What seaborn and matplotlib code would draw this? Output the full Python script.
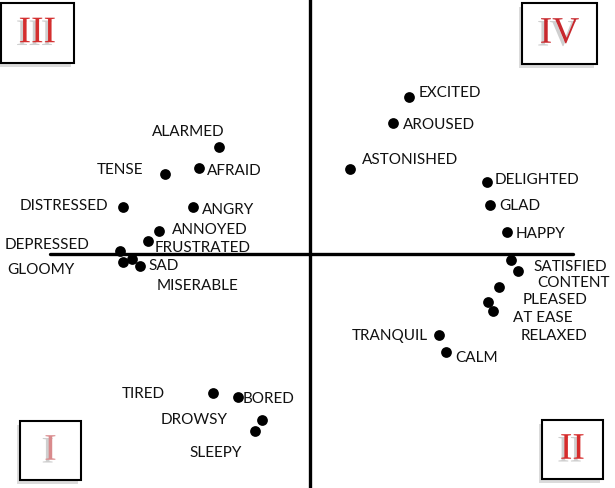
import matplotlib
matplotlib.use("Agg")
import matplotlib.pyplot as plt
import matplotlib.patheffects as pe
from matplotlib.patches import Rectangle
import seaborn as sns
import pandas as pd

# ---- data (pleasure = x, arousal = y) ----
words = ["ALARMED", "AFRAID", "TENSE", "DISTRESSED", "ANGRY", "ANNOYED",
         "FRUSTRATED", "DEPRESSED", "GLOOMY", "MISERABLE", "SAD",
         "EXCITED", "AROUSED", "ASTONISHED", "DELIGHTED", "GLAD", "HAPPY",
         "SATISFIED", "CONTENT", "PLEASED", "AT EASE", "RELAXED",
         "TRANQUIL", "CALM", "TIRED", "BORED", "DROWSY", "SLEEPY"]
pleasure = [-0.364, -0.444, -0.580, -0.748, -0.468, -0.604,
            -0.648, -0.760, -0.748, -0.712, -0.680,
            0.396, 0.332, 0.160, 0.708, 0.720, 0.788,
            0.804, 0.832, 0.756, 0.712, 0.732,
            0.516, 0.544, -0.388, -0.288, -0.192, -0.220]
arousal = [0.428, 0.344, 0.320, 0.188, 0.188, 0.092,
           0.052, 0.012, -0.032, -0.020, -0.048,
           0.628, 0.524, 0.340, 0.288, 0.196, 0.088,
           -0.024, -0.068, -0.132, -0.192, -0.228,
           -0.324, -0.392, -0.556, -0.572, -0.664, -0.708]
quadrants = ["III", "IV", "I", "II"]

# ---- label placement (pixel offsets, alignment) ----
label_style = {
    "ALARMED": (-31, 16, "center"), "AFRAID": (8, -2, "left"),
    "TENSE": (-22, 5, "right"), "DISTRESSED": (-15, 2, "right"),
    "ANGRY": (9, -2, "left"), "ANNOYED": (13, 2, "left"),
    "FRUSTRATED": (7, -6, "left"), "DEPRESSED": (-31, 7, "right"),
    "GLOOMY": (-49, -7, "right"), "MISERABLE": (25, -26, "left"),
    "SAD": (8, 1, "left"), "EXCITED": (10, 5, "left"),
    "AROUSED": (10, -1, "left"), "ASTONISHED": (12, 10, "left"),
    "DELIGHTED": (8, 3, "left"), "GLAD": (9, 0, "left"),
    "HAPPY": (9, -1, "left"), "SATISFIED": (22, -6, "left"),
    "CONTENT": (19, -11, "left"), "PLEASED": (24, -12, "left"),
    "AT EASE": (25, -15, "left"), "RELAXED": (28, -24, "left"),
    "TRANQUIL": (-11, 0, "right"), "CALM": (9, -5, "left"),
    "TIRED": (-48, 0, "right"), "BORED": (5, -1, "left"),
    "DROWSY": (-34, 1, "right"), "SLEEPY": (-13, -21, "right"),
}

df = pd.DataFrame({"word": words, "pleasure": pleasure, "arousal": arousal})

sns.set_style("white")
plt.rcParams["font.family"] = ["Lato", "DejaVu Sans"]

W, H = 615, 489
fig = plt.figure(figsize=(W / 100, H / 100), dpi=100)
ax = fig.add_axes([0, 0, 1, 1])
ax.set_xlim(-310 / 250, (W - 310) / 250)
ax.set_ylim((255 - H) / 250, 255 / 250)
ax.axis("off")

# axes cross
ax.plot([(50 - 310) / 250, (573 - 310) / 250], [0, 0], color="black", lw=2.4, zorder=1)
ax.axvline(0, color="black", lw=2.4, zorder=1)

sns.scatterplot(data=df, x="pleasure", y="arousal", ax=ax, s=60,
                color="black", edgecolor="black", linewidth=0, zorder=3,
                legend=False)

for w, x, y in zip(words, pleasure, arousal):
    dx, dy, ha = label_style[w]
    ax.annotate(w, (x, y), xytext=(dx, dy), textcoords="offset pixels",
                ha=ha, va="center", fontsize=11, color="#111111", zorder=4)

# quadrant boxes (pixel boxes: x0, y0top, x1, y1bottom)
boxes = {"III": (1, 4, 74, 64), "IV": (522, 4, 597, 65),
         "I": (20, 422, 81, 481), "II": (542, 421, 603, 480)}
colors = {"III": "#d42f2f", "IV": "#c8282d", "I": "#d98a8c", "II": "#d62b2b"}
for q in quadrants:
    x0, y0, x1, y1 = boxes[q]
    rect = Rectangle((x0 / W, 1 - y1 / H), (x1 - x0) / W, (y1 - y0) / H,
                     transform=fig.transFigure, facecolor="white",
                     edgecolor="black", lw=1.5, zorder=5)
    rect.set_path_effects([pe.SimplePatchShadow(offset=(-2, -3), shadow_rgbFace="#999999", alpha=0.35),
                           pe.Normal()])
    fig.add_artist(rect)
    t = fig.text((x0 + x1) / 2 / W, 1 - (y0 + y1) / 2 / H, q, ha="center", va="center",
                 fontsize=27, color=colors[q], family="Liberation Serif", zorder=6)
    t.set_path_effects([pe.SimplePatchShadow(offset=(-2, -2), shadow_rgbFace="#888888", alpha=0.4),
                        pe.Normal()])

fig.savefig("out.png", dpi=100)
